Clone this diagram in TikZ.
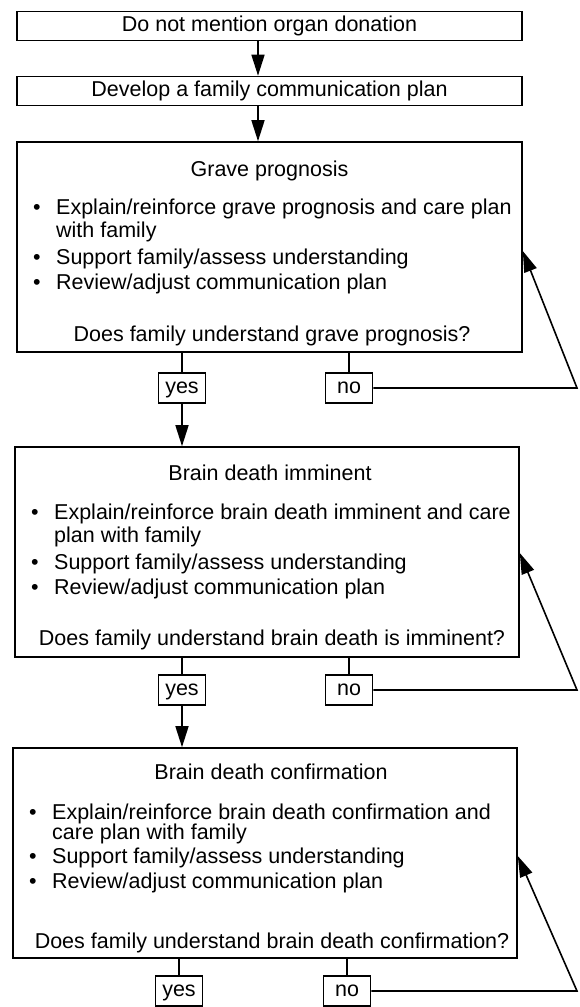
\documentclass[tikz,border=0pt]{standalone}
\usepackage{fontspec}
\setmainfont{Liberation Sans}
\usetikzlibrary{arrows.meta}
\begin{document}
\begin{tikzpicture}[x=1pt,y=-1pt,
  every node/.style={font=\fontsize{21.5}{25}\selectfont, inner sep=0pt},
  slim/.style={draw, line width=1.6pt, minimum width=505pt, minimum height=29pt},
  bigbox/.style={draw, line width=1.6pt, minimum width=504pt, minimum height=210pt},
  yn/.style={draw, line width=1.5pt, minimum width=47pt, minimum height=30pt, text height=11pt, text depth=0pt},
  txt/.style={anchor=base west},
  dot/.style={anchor=base},
  ctr/.style={anchor=base},
  link/.style={line width=1.6pt},
  arr/.style={line width=1.6pt, -{Triangle[length=21pt,width=13pt]}}]
\useasboundingbox (0,0) rectangle (579,1007);

% top boxes
\node[slim] (b1) at (269.5,26) {Do not mention organ donation};
\node[slim] (b2) at (269.5,91) {Develop a family communication plan};
\coordinate (ax) at (258,0);

% box 3
\node[bigbox, minimum width=505pt] (b3) at (269.5,247) {};
\node[ctr] (t3) at (269.5,176.5) {Grave prognosis};
\node[dot] (d3a) at (37,214.5) {\textbullet};
\node[txt] (l3a) at (56,214.5) {Explain/reinforce grave prognosis and care plan};
\node[txt] (l3b) at (56,237.5) {with family};
\node[dot] (d3c) at (37,264.5) {\textbullet};
\node[txt] (l3c) at (56,264.5) {Support family/assess understanding};
\node[dot] (d3d) at (37,289.5) {\textbullet};
\node[txt] (l3d) at (56,289.5) {Review/adjust communication plan};
\node[ctr] (q3) at (272,341.5) {Does family understand grave prognosis?};
\node[yn] (y3) at (182,388) {yes};
\node[yn] (n3) at (349,388) {no};
\coordinate (c3) at (577,388);

% box 4
\node[bigbox] (b4) at (267,552) {};
\node[ctr] (t4) at (270,480.5) {Brain death imminent};
\node[dot] (d4a) at (35,519.5) {\textbullet};
\node[txt] (l4a) at (54,519.5) {Explain/reinforce brain death imminent and care};
\node[txt] (l4b) at (54,542.5) {plan with family};
\node[dot] (d4c) at (35,569.5) {\textbullet};
\node[txt] (l4c) at (54,569.5) {Support family/assess understanding};
\node[dot] (d4d) at (35,594.5) {\textbullet};
\node[txt] (l4d) at (54,594.5) {Review/adjust communication plan};
\node[ctr] (q4) at (272,645.5) {Does family understand brain death is imminent?};
\node[yn] (y4) at (182,690) {yes};
\node[yn] (n4) at (349,690) {no};
\coordinate (c4) at (577,690);

% box 5
\node[bigbox] (b5) at (265,853) {};
\node[ctr] (t5) at (271,779.5) {Brain death confirmation};
\node[dot] (d5a) at (33,819.5) {\textbullet};
\node[txt] (l5a) at (52,819.5) {Explain/reinforce brain death confirmation and};
\node[txt] (l5b) at (52,839.5) {care plan with family};
\node[dot] (d5c) at (33,863.5) {\textbullet};
\node[txt] (l5c) at (52,863.5) {Support family/assess understanding};
\node[dot] (d5d) at (33,888.5) {\textbullet};
\node[txt] (l5d) at (52,888.5) {Review/adjust communication plan};
\node[ctr] (q5) at (272,948.5) {Does family understand brain death confirmation?};
\node[yn] (y5) at (179,991) {yes};
\node[yn] (n5) at (347,991) {no};
\coordinate (c5) at (577,991);

% main flow
\draw[arr] (b1.south -| ax) -- (b2.north -| ax);
\draw[arr] (b2.south -| ax) -- (b3.north -| ax);
\draw[link] (b3.south -| y3) -- (y3.north);
\draw[link] (b3.south -| n3) -- (n3.north);
\draw[arr] (y3.south) -- (b4.north -| y3);
\draw[link] (b4.south -| y4) -- (y4.north);
\draw[link] (b4.south -| n4) -- (n4.north);
\draw[arr] (y4.south) -- (b5.north -| y4);
\draw[link] (b5.south -| y5) -- (y5.north);
\draw[link] (b5.south -| n5) -- (n5.north);

% loops back
\draw[arr] (n3.east) -- (c3) -- ([yshift=-4pt]b3.east);
\draw[arr] (n4.east) -- (c4) -- ([yshift=-1pt]b4.east);
\draw[arr] (n5.east) -- (c5) -- ([yshift=-3pt]b5.east);
\end{tikzpicture}
\end{document}
